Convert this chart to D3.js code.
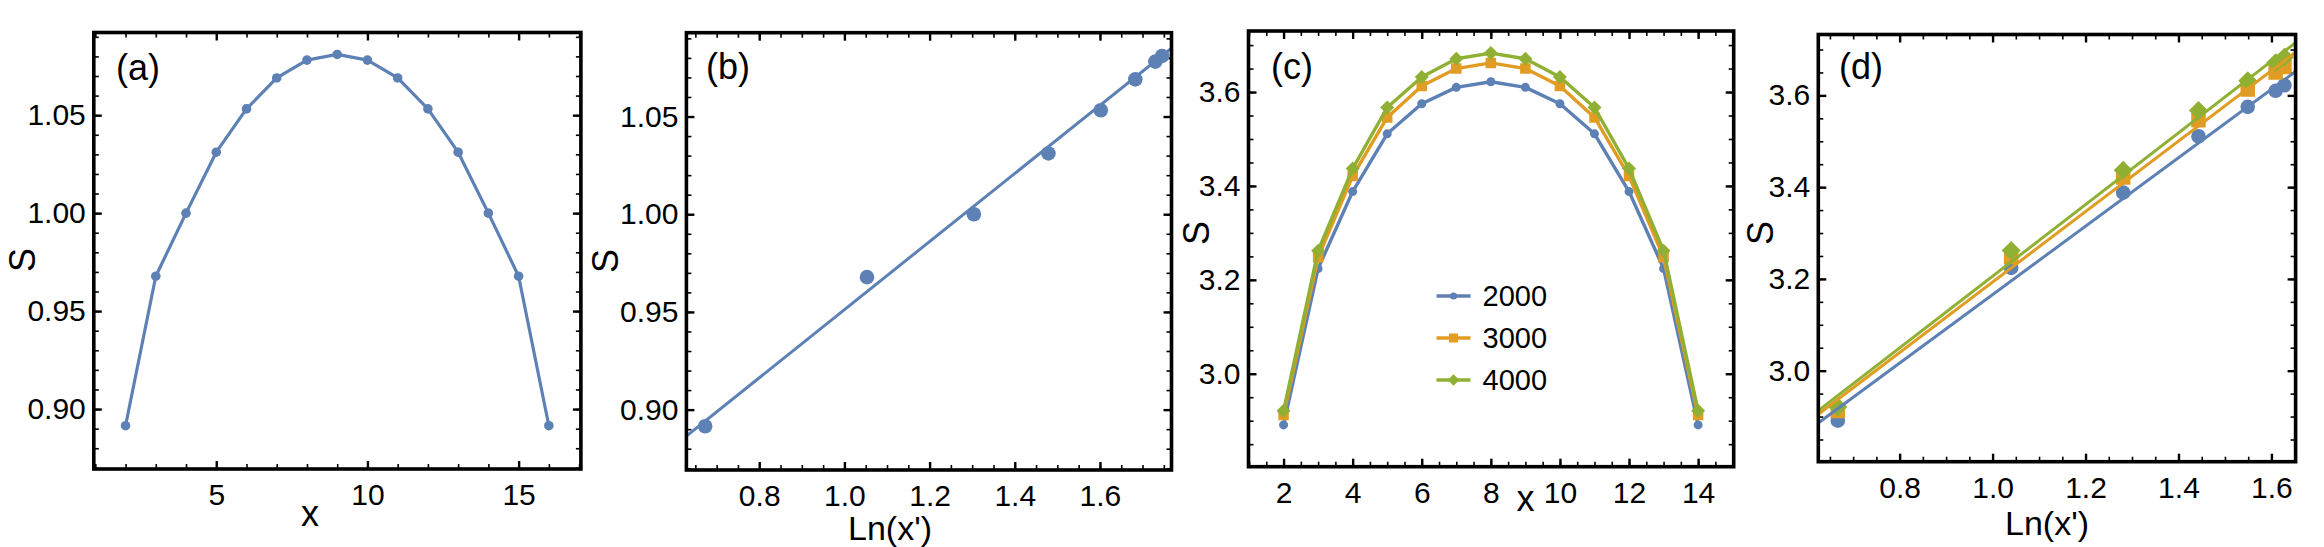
<!DOCTYPE html>
<html>
<head>
<meta charset="utf-8">
<script src="https://cdn.jsdelivr.net/npm/d3@7"></script>
<style>
  body { margin: 0; background: #fff; }
  text { font-family: "Liberation Sans", Arial, sans-serif; fill: #000; }
  .axes text { font-size: 30px; }
</style>
</head>
<body>
<div id="chart"></div>
<script>
// ---- data ----
// (a) S against x
const xA = [2, 3, 4, 5, 6, 7, 8, 9, 10, 11, 12, 13, 14, 15, 16];
const sA = [0.8915, 0.9678, 1.0000, 1.0311, 1.0532, 1.0690, 1.0781, 1.0810,
            1.0781, 1.0690, 1.0532, 1.0311, 1.0000, 0.9678, 0.8915];
// (b) S against Ln(x') with its fitted line
const lnB = [0.673, 1.053, 1.304, 1.479, 1.602, 1.683, 1.730, 1.746];
const sB = [0.8915, 0.9678, 1.0000, 1.0311, 1.0532, 1.0690, 1.0781, 1.0810];
const fitBx = [0.629, 1.768];
const fitBy = [0.8865, 1.0850];
// (c) three series
const seriesNames = ["2000", "3000", "4000"];
const xC = [2, 3, 4, 5, 6, 7, 8, 9, 10, 11, 12, 13, 14];
const s2000 = [2.891, 3.224, 3.388, 3.511, 3.575, 3.610, 3.622, 3.610, 3.575, 3.511, 3.388, 3.224, 2.891];
const s3000 = [2.912, 3.248, 3.421, 3.546, 3.613, 3.650, 3.662, 3.650, 3.613, 3.546, 3.421, 3.248, 2.912];
const s4000 = [2.921, 3.262, 3.437, 3.567, 3.632, 3.671, 3.683, 3.671, 3.632, 3.567, 3.437, 3.262, 2.921];
// (d) the same against Ln(x'), with fits
const lnD = [0.667, 1.040, 1.281, 1.443, 1.549, 1.609, 1.628];
const sD2000 = [2.891, 3.224, 3.388, 3.511, 3.575, 3.610, 3.622];
const sD3000 = [2.912, 3.248, 3.421, 3.546, 3.613, 3.650, 3.662];
const sD4000 = [2.921, 3.262, 3.437, 3.567, 3.632, 3.671, 3.683];
const fitDx = [0.625, 1.652];
const fitD2000 = [2.886, 3.652];
const fitD3000 = [2.905, 3.694];
const fitD4000 = [2.913, 3.715];

// ticks
const ticksAx = [5, 10, 15];
const ticksAy = [0.90, 0.95, 1.00, 1.05];
const ticksLn = [0.8, 1.0, 1.2, 1.4, 1.6];
const ticksCx = [2, 4, 6, 8, 10, 12, 14];
const ticksCy = [3.0, 3.2, 3.4, 3.6];

const blue = "#5E81B5", orange = "#E19C24", green = "#8FB032";

const svg = d3.select("#chart").append("svg")
  .attr("width", 2324)
  .attr("height", 547);

function range(a, b, step) {
  const out = [];
  for (let v = a; v <= b + 1e-9; v += step) out.push(+v.toFixed(4));
  return out;
}

function makePanel(p) {
  const x = d3.scaleLinear().domain(p.xDomain).range([p.left, p.right]);
  const y = d3.scaleLinear().domain(p.yDomain).range([p.bottom, p.top]);
  const g = svg.append("g");

  svg.append("clipPath").attr("id", "clip-" + p.name)
    .append("rect")
    .attr("x", p.left).attr("y", p.top)
    .attr("width", p.right - p.left).attr("height", p.bottom - p.top);

  const axes = g.append("g").attr("class", "axes");
  const add = (axis, tf, w, labelled) => axes.append("g")
    .attr("transform", tf)
    .call(axis)
    .call(a => a.select(".domain").remove())
    .call(a => { if (!labelled) a.selectAll("text").remove(); })
    .call(a => a.selectAll("line").attr("stroke", "#000").attr("stroke-width", w));

  const xMinor = range(p.xMinor[0], p.xMinor[1], p.xMinor[2]);
  const yMinor = range(p.yMinor[0], p.yMinor[1], p.yMinor[2]);

  // minor ticks all round
  add(d3.axisBottom(x).tickValues(xMinor).tickSizeInner(-5), `translate(0,${p.bottom})`, 1.6, false);
  add(d3.axisTop(x).tickValues(xMinor).tickSizeInner(-5), `translate(0,${p.top})`, 1.6, false);
  add(d3.axisLeft(y).tickValues(yMinor).tickSizeInner(-5), `translate(${p.left},0)`, 1.6, false);
  add(d3.axisRight(y).tickValues(yMinor).tickSizeInner(-5), `translate(${p.right},0)`, 1.6, false);
  // major ticks
  add(d3.axisBottom(x).tickValues(p.xTicks).tickFormat(p.xFmt).tickSizeInner(-8).tickPadding(15), `translate(0,${p.bottom})`, 2.4, true);
  add(d3.axisTop(x).tickValues(p.xTicks).tickSizeInner(-8), `translate(0,${p.top})`, 2.4, false);
  add(d3.axisLeft(y).tickValues(p.yTicks).tickFormat(p.yFmt).tickSizeInner(-8).tickPadding(8), `translate(${p.left},0)`, 2.4, true);
  add(d3.axisRight(y).tickValues(p.yTicks).tickSizeInner(-8), `translate(${p.right},0)`, 2.4, false);

  const plot = g.append("g").attr("clip-path", `url(#clip-${p.name})`);

  // panel tag
  g.append("text").attr("x", p.tag[0]).attr("y", p.tag[1])
    .attr("font-size", 36).text(p.tagText);
  // axis labels
  g.append("text")
    .attr("transform", `translate(${p.yLab[0]},${p.yLab[1]}) rotate(-90)`)
    .attr("text-anchor", "middle").attr("dy", "0.35em")
    .attr("font-size", 36).text("S");
  g.append("text").attr("x", p.xLab[0]).attr("y", p.xLab[1])
    .attr("text-anchor", "middle")
    .attr("font-size", p.xLabSize).text(p.xLabText);

  return { g, plot, x, y, p };
}

function drawFrame(panel) {
  const p = panel.p;
  panel.g.append("rect")
    .attr("x", p.left).attr("y", p.top)
    .attr("width", p.right - p.left).attr("height", p.bottom - p.top)
    .attr("fill", "none").attr("stroke", "#000").attr("stroke-width", 3.6);
}

function drawLine(panel, xs, ys, color, w) {
  const line = d3.line().x(i => panel.x(xs[i])).y(i => panel.y(ys[i]));
  panel.plot.append("path")
    .attr("d", line(d3.range(xs.length)))
    .attr("fill", "none").attr("stroke", color).attr("stroke-width", w)
    .attr("stroke-linejoin", "round");
}

function drawMarks(panel, xs, ys, color, shape, size) {
  const sel = panel.plot.append("g").selectAll("path")
    .data(d3.range(xs.length)).enter().append("path")
    .attr("fill", color);
  if (shape === "circle") {
    sel.attr("d", d3.symbol(d3.symbolCircle, Math.PI * size * size))
      .attr("transform", i => `translate(${panel.x(xs[i])},${panel.y(ys[i])})`);
  } else if (shape === "square") {
    sel.attr("d", d3.symbol(d3.symbolSquare, size * size))
      .attr("transform", i => `translate(${panel.x(xs[i])},${panel.y(ys[i])})`);
  } else {
    sel.attr("d", d3.symbol(d3.symbolSquare, 2 * size * size))
      .attr("transform", i => `translate(${panel.x(xs[i])},${panel.y(ys[i])}) rotate(45)`);
  }
}

const f2 = d3.format(".2f"), f1 = d3.format(".1f"), f0 = d3.format("d");

// ---- (a) ----
const pa = makePanel({
  name: "a", left: 93.8, right: 580.9, top: 32.5, bottom: 469,
  xDomain: [0.95, 17.06], yDomain: [0.8694, 1.0922],
  xTicks: ticksAx, yTicks: ticksAy, xFmt: f0, yFmt: f2,
  xMinor: [1, 17, 1], yMinor: [0.87, 1.09, 0.01],
  tag: [116, 80], tagText: "(a)",
  yLab: [22, 260], xLab: [310, 526], xLabText: "x", xLabSize: 36
});
drawLine(pa, xA, sA, blue, 3.2);
drawMarks(pa, xA, sA, blue, "circle", 4.8);
drawFrame(pa);

// ---- (b) ----
const pb = makePanel({
  name: "b", left: 686.4, right: 1171.5, top: 32.7, bottom: 470,
  xDomain: [0.629, 1.768], yDomain: [0.8691, 1.0929],
  xTicks: ticksLn, yTicks: ticksAy, xFmt: f1, yFmt: f2,
  xMinor: [0.65, 1.75, 0.05], yMinor: [0.87, 1.09, 0.01],
  tag: [706, 79], tagText: "(b)",
  yLab: [605, 261], xLab: [890, 540], xLabText: "Ln(x')", xLabSize: 34
});
drawMarks(pb, lnB, sB, blue, "circle", 7.3);
drawLine(pb, fitBx, fitBy, blue, 3);
drawFrame(pb);

// ---- (c) ----
const pc = makePanel({
  name: "c", left: 1248.5, right: 1733.7, top: 31, bottom: 466.7,
  xDomain: [0.985, 15.03], yDomain: [2.802, 3.730],
  xTicks: ticksCx, yTicks: ticksCy, xFmt: f0, yFmt: f1,
  xMinor: [1, 15, 0.5], yMinor: [2.85, 3.70, 0.05],
  tag: [1271, 79], tagText: "(c)",
  yLab: [1196, 233], xLab: [1525.5, 511], xLabText: "x", xLabSize: 36
});
const cSeries = [
  { ys: s2000, color: blue, shape: "circle", size: 4.5, leg: 3.6 },
  { ys: s3000, color: orange, shape: "square", size: 10.5, leg: 9 },
  { ys: s4000, color: green, shape: "diamond", size: 7, leg: 5.8 }
];
cSeries.forEach(s => {
  drawLine(pc, xC, s.ys, s.color, 3.4);
  drawMarks(pc, xC, s.ys, s.color, s.shape, s.size);
});
// legend
const legY = d3.scalePoint().domain(seriesNames).range([296, 380]);
const leg = pc.g.append("g");
cSeries.forEach((s, i) => {
  const yy = legY(seriesNames[i]);
  leg.append("line").attr("x1", 1436.5).attr("x2", 1470.5).attr("y1", yy).attr("y2", yy)
    .attr("stroke", s.color).attr("stroke-width", 3.6);
  const m = leg.append("path").attr("fill", s.color);
  if (s.shape === "circle") m.attr("d", d3.symbol(d3.symbolCircle, Math.PI * s.leg * s.leg)).attr("transform", `translate(1453.5,${yy})`);
  else if (s.shape === "square") m.attr("d", d3.symbol(d3.symbolSquare, s.leg * s.leg)).attr("transform", `translate(1453.5,${yy})`);
  else m.attr("d", d3.symbol(d3.symbolSquare, 2 * s.leg * s.leg)).attr("transform", `translate(1453.5,${yy}) rotate(45)`);
  leg.append("text").attr("x", 1482.5).attr("y", yy).attr("dy", "0.36em")
    .attr("font-size", 29).text(seriesNames[i]);
});
drawFrame(pc);

// ---- (d) ----
const pd = makePanel({
  name: "d", left: 1818.3, right: 2295.6, top: 34.5, bottom: 461.7,
  xDomain: [0.625, 1.652], yDomain: [2.8016, 3.7327],
  xTicks: ticksLn, yTicks: ticksCy, xFmt: f1, yFmt: f1,
  xMinor: [0.65, 1.65, 0.05], yMinor: [2.85, 3.70, 0.05],
  tag: [1839, 79], tagText: "(d)",
  yLab: [1760, 233], xLab: [2047, 535], xLabText: "Ln(x')", xLabSize: 34
});
const dSeries = [
  { ys: sD2000, fit: fitD2000, color: blue, shape: "circle", size: 7.3 },
  { ys: sD3000, fit: fitD3000, color: orange, shape: "square", size: 14.5 },
  { ys: sD4000, fit: fitD4000, color: green, shape: "diamond", size: 9.5 }
];
dSeries.forEach(s => drawMarks(pd, lnD, s.ys, s.color, s.shape, s.size));
dSeries.forEach(s => drawLine(pd, fitDx, s.fit, s.color, 3));
drawFrame(pd);
</script>
</body>
</html>
